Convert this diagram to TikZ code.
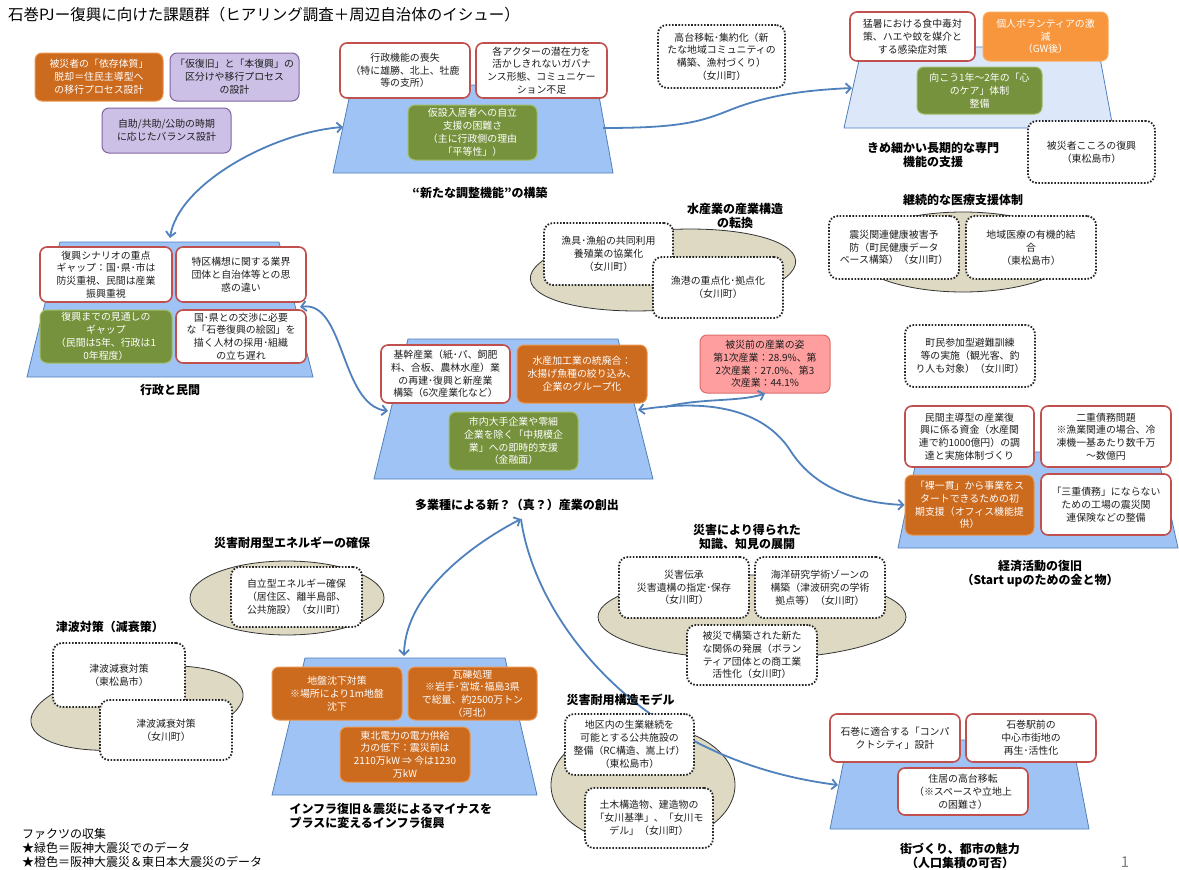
\documentclass[tikz,border=0pt]{standalone}
\usepackage{fontspec}
\setmainfont{Noto Sans CJK JP}
\usetikzlibrary{arrows.meta}
\definecolor{txt}{RGB}{30,30,30}
\definecolor{redb}{RGB}{192,80,77}
\definecolor{greenD}{RGB}{118,146,60}
\definecolor{greenL}{RGB}{160,190,100}
\definecolor{orangeD}{RGB}{204,106,30}
\definecolor{orangeL}{RGB}{235,150,80}
\definecolor{orangeB}{RGB}{247,150,60}
\definecolor{purpleL}{RGB}{204,192,230}
\definecolor{purpleD}{RGB}{128,100,162}
\definecolor{pinkL}{RGB}{255,158,158}
\definecolor{pinkD}{RGB}{220,110,110}
\definecolor{trapblue}{RGB}{160,195,245}
\definecolor{traplight}{RGB}{220,232,250}
\definecolor{lineblue}{RGB}{79,129,189}
\definecolor{arrowblue}{RGB}{79,129,189}
\definecolor{beige}{RGB}{221,217,195}
\newcommand\bxf{\fontsize{9.9}{12.8}\selectfont}
\newcommand\lbf{\fontsize{12}{14}\selectfont\bfseries}
\tikzset{
 bx/.style={rounded corners=7pt, align=center, inner sep=2pt, font=\bxf, text=txt, line width=1.6pt},
 rbox/.style={bx, draw=redb, fill=white},
 gbox/.style={bx, draw=greenL, fill=greenD, text=white, line width=1pt},
 obox/.style={bx, draw=orangeL, fill=orangeD, text=white, line width=1pt},
 bobox/.style={bx, draw=orangeB!80!white, fill=orangeB, text=white, line width=1pt},
 pbox/.style={bx, draw=purpleD, fill=purpleL, line width=1pt},
 pkbox/.style={bx, draw=pinkD, fill=pinkL, line width=1pt},
 dbox/.style={bx, draw=black!85, fill=white, line width=1.8pt, dash pattern=on 1.6pt off 1.6pt, rounded corners=9pt},
 trap/.style={fill=trapblue, draw=lineblue, line width=0.8pt},
 ell/.style={fill=beige, draw=black!80, line width=0.8pt},
 conn/.style={draw=arrowblue, line width=1.8pt, -{Straight Barb[length=5pt,width=10pt]}},
 bconn/.style={draw=arrowblue, line width=1.8pt, {Straight Barb[length=5pt,width=10pt]}-{Straight Barb[length=5pt,width=10pt]}},
 lbl/.style={font=\lbf, align=center, text=black},
}
\begin{document}
\begin{tikzpicture}[x=1pt,y=-1pt]
\useasboundingbox (0,0) rectangle (1179,870);
\fill[white] (0,0) rectangle (1179,870);

% title
\node[anchor=west, font=\fontsize{15.5}{17}\selectfont, text=black, inner sep=0] (title) at (8,15) {石巻PJー復興に向けた課題群（ヒアリング調査＋周辺自治体のイシュー）};

% ellipses
\draw[ell, rotate around={4:(663,270)}] (663,270) ellipse [x radius=133pt, y radius=40pt];
\draw[ell] (963,252) ellipse [x radius=110pt, y radius=40pt];
\draw[ell] (287,598) ellipse [x radius=97pt, y radius=37pt];
\draw[ell, rotate around={8:(137,708)}] (137,708) ellipse [x radius=107pt, y radius=40pt];
\draw[ell] (752,617) ellipse [x radius=154pt, y radius=42pt];
\draw[ell] (643,785) ellipse [x radius=92pt, y radius=60pt];

% trapezoids
\draw[trap] (352,85) -- (597,85) -- (613,173) -- (333,173) -- cycle;
\draw[fill=traplight, draw=lineblue, line width=0.8pt] (862,47) -- (1098,47) -- (1113,128) -- (844,128) -- cycle;
\draw[trap] (60,242) -- (279,242) -- (313,377) -- (27,377) -- cycle;
\draw[trap] (408,339) -- (618,339) -- (653,479) -- (374,479) -- cycle;
\draw[trap] (918,452) -- (1157,452) -- (1178,548) -- (898,548) -- cycle;
\draw[trap] (305,658) -- (505,658) -- (537,795) -- (272,795) -- cycle;
\draw[trap] (848,740) -- (1072,740) -- (1089,829) -- (830,829) -- cycle;

% connector end points
\coordinate (t1r) at (603,128);
\coordinate (t2l) at (852,88);
\coordinate (t1l) at (343,127);
\coordinate (t3t) at (170,238);
\coordinate (t3r) at (300,307);
\coordinate (t4l) at (388,411);
\coordinate (t4r) at (638,410);
\coordinate (t4b) at (521,519);
\coordinate (t6t) at (404,656);
\coordinate (t7l) at (838,785);
\coordinate (br) at (665,407);

% connector behind boxes
\draw[conn] (t4b) .. controls (535,620) and (640,760) .. (t7l);

% labels
\node[lbl] (lt1) at (480,193) {“新たな調整機能”の構築};
\node[lbl] (lt2) at (933,155) {きめ細かい長期的な専門\\機能の支援};
\node[lbl] (lt3) at (170,390) {行政と民間};
\node[lbl] (lt4) at (517,505) {多業種による新？（真？）産業の創出};
\node[lbl] (lf) at (735,216) {水産業の産業構造\\の転換};
\node[lbl] (lg) at (963,200) {継続的な医療支援体制};
\node[lbl] (lt5) at (1040,574) {経済活動の復旧\\（Start upのための金と物）};
\node[lbl] (lh) at (292,543) {災害耐用型エネルギーの確保};
\node[lbl] (li) at (110,627) {津波対策（減衰策）};
\node[lbl, anchor=north west, align=left] (lt6) at (286,800) {インフラ復旧＆震災によるマイナスを\\プラスに変えるインフラ復興};
\node[lbl] (lk) at (747,537) {災害により得られた\\知識、知見の展開};
\node[lbl, anchor=west] (ll) at (563,700) {災害耐用構造モデル};
\node[lbl] (lt7) at (960,856) {街づくり、都市の魅力\\（人口集積の可否）};

% top-left boxes
\node[obox, minimum width=128pt, minimum height=48pt] (o1) at (99,77) {被災者の「依存体質」\\脱却＝住民主導型へ\\の移行プロセス設計};
\node[pbox, minimum width=129pt, minimum height=48pt] (p1) at (234.5,77) {「仮復旧」と「本復興」の\\区分けや移行プロセス\\の設計};
\node[pbox, minimum width=129pt, minimum height=45pt] (p2) at (166.5,130.5) {自助/共助/公助の時期\\に応じたバランス設計};

% top-middle
\node[rbox, minimum width=130pt, minimum height=55pt] (a1) at (405,70.5) {行政機能の喪失\\（特に雄勝、北上、牡鹿\\等の支所）};
\node[rbox, minimum width=131pt, minimum height=55pt] (a2) at (541.5,70.5) {各アクターの潜在力を\\活かしきれないガバナ\\ンス形態、コミュニケー\\ション不足};
\node[gbox, minimum width=129pt, minimum height=55pt] (a3) at (472.5,132.5) {仮設入居者への自立\\支援の困難さ\\（主に行政側の理由\\「平等性」）};

% top-right
\node[rbox, minimum width=125pt, minimum height=49pt] (b1) at (912.5,36.5) {猛暑における食中毒対\\策、ハエや蚊を媒介と\\する感染症対策};
\node[bobox, minimum width=125pt, minimum height=49pt] (b2) at (1045.5,36.5) {個人ボランティアの激\\減\\（GW後）};
\node[gbox, minimum width=125pt, minimum height=47pt] (b3) at (979.5,90.5) {向こう1年～2年の「心\\のケア」体制\\整備};
\node[dbox, minimum width=127pt, minimum height=62pt] (b4) at (1091.5,152) {被災者こころの復興\\（東松島市）};
\node[dbox, minimum width=127pt, minimum height=63pt] (b5) at (721.5,56.5) {高台移転･集約化（新\\たな地域コミュニティの\\構築、漁村づくり）\\（女川町）};

% left trapezoid
\node[rbox, minimum width=132pt, minimum height=55pt] (c1) at (106,274.5) {復興シナリオの重点\\ギャップ：国･県･市は\\防災重視、民間は産業\\振興重視};
\node[rbox, minimum width=130pt, minimum height=55pt] (c2) at (241,274.5) {特区構想に関する業界\\団体と自治体等との思\\惑の違い};
\node[gbox, minimum width=132pt, minimum height=53pt] (c3) at (106,336.5) {復興までの見通しの\\ギャップ\\（民間は5年、行政は1\\0年程度）};
\node[rbox, minimum width=130pt, minimum height=53pt] (c4) at (241,336.5) {国･県との交渉に必要\\な「石巻復興の絵図」を\\描く人材の採用･組織\\の立ち遅れ};

% center
\node[rbox, minimum width=129pt, minimum height=58pt] (d1) at (445.5,374) {基幹産業（紙･パ、飼肥\\料、合板、農林水産）業\\の再建･復興と新産業\\構築（6次産業化など）};
\node[obox, minimum width=130pt, minimum height=58pt] (d2) at (582,374) {水産加工業の統廃合：\\水揚げ魚種の絞り込み、\\企業のグループ化};
\node[gbox, minimum width=129pt, minimum height=58pt] (d3) at (513.5,441) {市内大手企業や零細\\企業を除く「中規模企\\業」への即時的支援\\（金融面）};
\node[pkbox, minimum width=130pt, minimum height=58pt] (d4) at (765,364) {被災前の産業の姿\\第1次産業：28.9\%、第\\2次産業：27.0\%、第3\\次産業：44.1\%};

% fishery
\node[dbox, minimum width=129pt, minimum height=62pt] (f1) at (608.5,254) {漁具･漁船の共同利用\\養殖業の協業化\\（女川町）};
\node[dbox, minimum width=130pt, minimum height=61pt] (f2) at (718,287.5) {漁港の重点化･拠点化\\（女川町）};

% medical
\node[dbox, minimum width=130pt, minimum height=63pt] (g1) at (894,247.5) {震災関連健康被害予\\防（町民健康データ\\ベース構築）（女川町）};
\node[dbox, minimum width=130pt, minimum height=63pt] (g2) at (1031,247.5) {地域医療の有機的結\\合\\（東松島市）};
\node[dbox, minimum width=130pt, minimum height=62pt] (g3) at (970,356) {町民参加型避難訓練\\等の実施（観光客、釣\\り人も対象）（女川町）};

% economy
\node[rbox, minimum width=129pt, minimum height=61pt] (e1) at (969.5,436.5) {民間主導型の産業復\\興に係る資金（水産関\\連で約1000億円）の調\\達と実施体制づくり};
\node[rbox, minimum width=130pt, minimum height=61pt] (e2) at (1106,436.5) {二重債務問題\\※漁業関連の場合、冷\\凍機一基あたり数千万\\～数億円};
\node[obox, minimum width=129pt, minimum height=60pt] (e3) at (969.5,505) {「裸一貫」から事業をス\\タートできるための初\\期支援（オフィス機能提\\供）};
\node[rbox, minimum width=130pt, minimum height=61pt] (e4) at (1106,504.5) {「三重債務」にならない\\ための工場の震災関\\連保険などの整備};

% energy
\node[dbox, minimum width=131pt, minimum height=60pt] (h1) at (296.5,597) {自立型エネルギー確保\\（居住区、離半島部、\\公共施設）（女川町）};

% tsunami
\node[dbox, minimum width=132pt, minimum height=64pt] (i1) at (119,675) {津波減衰対策\\（東松島市）};
\node[dbox, minimum width=132pt, minimum height=60pt] (i2) at (166,730) {津波減衰対策\\（女川町）};

% infra
\node[obox, minimum width=130pt, minimum height=53pt] (j1) at (337,693.5) {地盤沈下対策\\※場所により1m地盤\\沈下};
\node[obox, minimum width=129pt, minimum height=53pt] (j2) at (472.5,693.5) {瓦礫処理\\※岩手･宮城･福島3県\\で総量、約2500万トン\\（河北）};
\node[obox, minimum width=130pt, minimum height=55pt] (j3) at (405,754.5) {東北電力の電力供給\\力の低下：震災前は\\2110万kW ⇒ 今は1230\\万kW};

% knowledge
\node[dbox, minimum width=130pt, minimum height=61pt] (k1) at (684,587.5) {災害伝承\\災害遺構の指定･保存\\（女川町）};
\node[dbox, minimum width=130pt, minimum height=61pt] (k2) at (820,587.5) {海洋研究学術ゾーンの\\構築（津波研究の学術\\拠点等）（女川町）};
\node[dbox, minimum width=130pt, minimum height=60pt] (k3) at (752,655) {被災で構築された新た\\な関係の発展（ボラン\\ティア団体との商工業\\活性化（女川町）};

% structure
\node[dbox, minimum width=129pt, minimum height=61pt] (l1) at (629.5,744.5) {地区内の生業継続を\\可能とする公共施設の\\整備（RC構造、嵩上げ）\\（東松島市）};
\node[dbox, minimum width=128pt, minimum height=60pt] (l2) at (649,818) {土木構造物、建造物の\\「女川基準」、「女川モ\\デル」（女川町）};

% town
\node[rbox, minimum width=130pt, minimum height=48pt] (m1) at (895,738) {石巻に適合する「コンパ\\クトシティ」設計};
\node[rbox, minimum width=130pt, minimum height=48pt] (m2) at (1031,738) {石巻駅前の\\中心市街地の\\再生･活性化};
\node[rbox, minimum width=130pt, minimum height=47pt] (m3) at (963,791.5) {住居の高台移転\\（※スペースや立地上\\の困難さ）};

% connectors
\draw[conn] (t1r) .. controls (680,128) and (700,122) .. (730,110) .. controls (770,94) and (810,90) .. (t2l);
\draw[bconn] (t3t) .. controls (178,185) and (270,133) .. (t1l);
\draw[bconn] (t3r) .. controls (345,300) and (340,405) .. (t4l);
\draw[bconn] (t4r) .. controls (700,400) and (760,405) .. (790,450) .. controls (815,490) and (860,503) .. (e3.west);
\draw[conn] (br) .. controls (700,398) and (740,402) .. (d4.south);
\draw[bconn] (t6t) .. controls (405,590) and (480,540) .. (t4b);

% notes
\node[anchor=north west, align=left, font=\fontsize{12}{14}\selectfont, text=black, inner sep=0] (notes) at (22,828) {ファクツの収集\\★緑色＝阪神大震災でのデータ\\★橙色＝阪神大震災＆東日本大震災のデータ};
\node[font=\fontsize{15}{17}\selectfont, text=black!50] (pg) at (1125,862) {1};
\end{tikzpicture}
\end{document}
